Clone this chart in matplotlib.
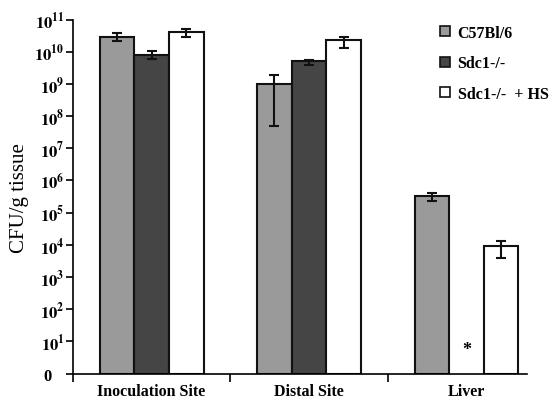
import matplotlib
matplotlib.use('Agg')
import matplotlib.pyplot as plt
from matplotlib.patches import Patch
import numpy as np

plt.rcParams['font.family'] = ['Liberation Serif', 'DejaVu Serif']
plt.rcParams['mathtext.fontset'] = 'stix'

sites = ["Inoculation Site", "Distal Site", "Liver"]
series = ["C57Bl/6", "Sdc1-/-", "Sdc1-/-  + HS"]
colors = ["#9a9a9a", "#454545", "#ffffff"]

# CFU/g tissue (nan = not detected)
wt = [2.9e10, 1.0e9, 3.2e5]
sdc1 = [7.9e9, 5.1e9, np.nan]
sdc1_hs = [4.2e10, 2.24e10, 9.1e3]

# error bar bounds (low, high)
wt_lo = [2.2e10, 4.9e7, 2.35e5]
wt_hi = [3.8e10, 1.86e9, 4.2e5]
sdc1_lo = [5.9e9, 4.0e9, np.nan]
sdc1_hi = [1.03e10, 5.6e9, np.nan]
hs_lo = [2.9e10, 1.32e10, 3.9e3]
hs_hi = [5.0e10, 2.9e10, 1.35e4]

yticks = [10.0 ** k for k in range(0, 12)]
ylabels = ["0   "] + [r"$\mathbf{10^{%d}}$" % k for k in range(1, 12)]

fig = plt.figure(figsize=(5.52, 4.02), dpi=100)
ax = fig.add_axes([0.132, 0.068, 0.823, 0.881])
ax.set_yscale('log')

x = np.arange(len(sites))
w = 0.22
vals = [wt, sdc1, sdc1_hs]
los = [wt_lo, sdc1_lo, hs_lo]
his = [wt_hi, sdc1_hi, hs_hi]
for i in range(3):
    v = np.array(vals[i], dtype=float)
    xs = x + (i - 1) * w
    ax.bar(xs, v - 1, bottom=1, width=w, color=colors[i],
           edgecolor='#111111', linewidth=1.5, zorder=2)
    lo = v - np.array(los[i], dtype=float)
    hi = np.array(his[i], dtype=float) - v
    ax.errorbar(xs, v, yerr=[lo, hi], fmt='none', ecolor='#111111',
                elinewidth=1.5, capsize=3.5, capthick=1.5, zorder=3)

# not detected marker
ax.text(x[2], 10 ** 0.75, "*", ha='center', va='center', fontsize=13,
        fontweight='bold')

ax.set_ylim(1, 1e11)
ax.set_xlim(-0.5, 2.385)
ax.set_yticks(yticks)
ax.set_yticklabels(ylabels, fontweight='bold')
ax.yaxis.set_minor_locator(matplotlib.ticker.NullLocator())
ax.tick_params(axis='y', direction='out', length=5, width=1.2, labelsize=12,
               pad=1)

ax.set_xticks(x)
ax.set_xticklabels(sites, fontsize=11.5, fontweight='bold')
ax.set_xticks([-0.5, 0.5, 1.5], minor=True)
ax.tick_params(axis='x', which='major', length=0, pad=7)
ax.tick_params(axis='x', which='minor', direction='out', length=6, width=1.2)

for s in ['top', 'right']:
    ax.spines[s].set_visible(False)
for s in ['left', 'bottom']:
    ax.spines[s].set_linewidth(1.2)

ax.set_ylabel("CFU/g tissue", fontsize=15, labelpad=4)

handles = [Patch(facecolor=c, edgecolor='#111111', linewidth=1.2) for c in colors]
fig.legend(handles, series, loc='upper left', bbox_to_anchor=(0.771, 0.972),
           frameon=False, prop={'weight': 'bold', 'size': 11.5},
           handlelength=0.6, handleheight=0.6, labelspacing=0.92,
           handletextpad=0.5)

plt.savefig('out.png', dpi=100)
